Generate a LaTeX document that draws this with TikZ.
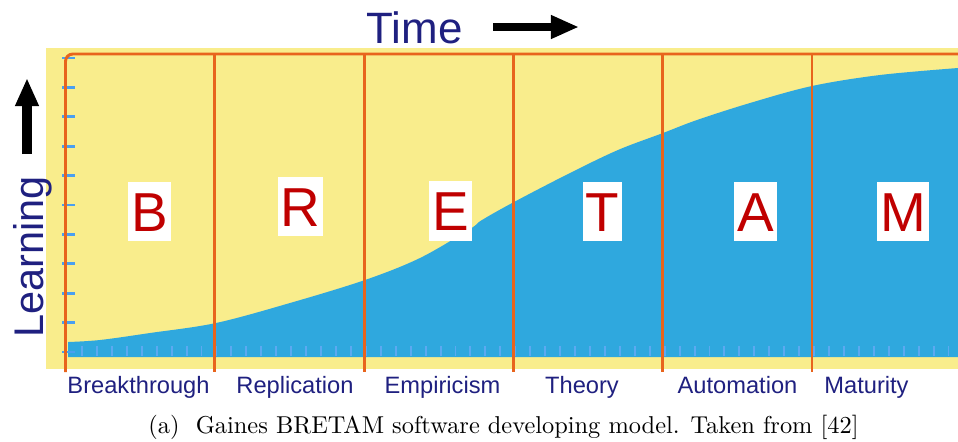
\documentclass[tikz,border=0pt]{standalone}
\usepackage{fontspec}
\usetikzlibrary{arrows.meta}
\newfontfamily\arialf{Liberation Sans}
\definecolor{bgyellow}{HTML}{F9ED8C}
\definecolor{areablue}{HTML}{2FA8DE}
\definecolor{lineorange}{HTML}{E8641C}
\definecolor{tickblue}{HTML}{4A9FF0}
\definecolor{navy}{HTML}{1F2080}
\definecolor{letterred}{HTML}{C00000}
\tikzset{
  phase/.style={fill=white,text=letterred,font=\arialf\fontsize{22.5}{22.5}\selectfont,
    inner xsep=1.2pt,inner ysep=0pt,minimum height=24.2pt,text height=16.1pt,text depth=0pt},
  stage/.style={anchor=base,text=navy,font=\arialf\fontsize{9.7}{9.7}\selectfont,inner sep=0pt},
  bigarrow/.style={-{Triangle[length=11.5pt,width=9pt]}},
  divider/.style={lineorange,line width=1.2pt}
}

\begin{document}
\begin{tikzpicture}[x=0.41pt,y=-0.41pt]
\useasboundingbox (0,0) rectangle (958,441);
% chart background and learning curve
\fill[bgyellow] (46,48) rectangle (958,369);
\fill[areablue] (68,357) -- plot[smooth,tension=0.55] coordinates {(68,342) (100,340) (150,333) (216,323) (290,303) (365,280) (420,258) (470,229) (482,220) (514,202) (570,173) (618,150) (663,133) (697,120) (750,103) (812,86) (880,75) (958,68)} -- (958,357) -- cycle;
\foreach \k in {0,...,58} \draw[white!10!tickblue,line width=0.8pt] (82+14.94*\k,346) -- ++(0,10);
\foreach \k in {0,...,10} \draw[tickblue,line width=1.2pt] (62,58+29.4*\k) -- (75,58+29.4*\k);
% phase borders
\draw[divider,rounded corners=3] (65.5,372) -- (65.5,54) -- (958,54);
\foreach \i in {1,...,5} \draw[divider] (65.5+149.3*\i,54) -- (65.5+149.3*\i,372);
% phase letters
\foreach \ch/\cx/\cy in {B/149.5/211.5,R/300.5/206.5,E/450.5/211,T/602.5/211.5,A/755.5/211.5,M/903/211.5}
  \node[phase] (ph-\ch) at (\cx,\cy) {\ch};
% stage names
\node[stage] (breakthrough) at (138.5,393) {Breakthrough};
\node[stage] (replication) at (295,393) {Replication};
\node[stage] (empiricism) at (442.5,393) {Empiricism};
\node[stage] (theory) at (582,393) {Theory};
\node[stage] (automation) at (737.5,393) {Automation};
\node[stage] (maturity) at (866.5,393) {Maturity};
% axis titles
\node[anchor=base west,inner sep=0pt,text=navy,font=\arialf\fontsize{18}{18}\selectfont] (time) at (366,43) {Time};
\coordinate (tstart) at (493,27);\coordinate (tend) at (579,27);
\draw[bigarrow,line width=3.4pt] (tstart) -- (tend);
\node[rotate=90,anchor=base west,inner sep=0pt,text=navy,font=\arialf\fontsize{17}{17}\selectfont] (learning) at (43,338) {Learning};
\coordinate (lstart) at (27,154);\coordinate (lend) at (27,78);
\draw[bigarrow,line width=4.2pt] (lstart) -- (lend);
% caption
\node[anchor=base,inner sep=0pt,font=\fontsize{10}{12}\selectfont] (caption) at (503.5,433) {(a)~~Gaines BRETAM software developing model. Taken from [42]};
\end{tikzpicture}
\end{document}
